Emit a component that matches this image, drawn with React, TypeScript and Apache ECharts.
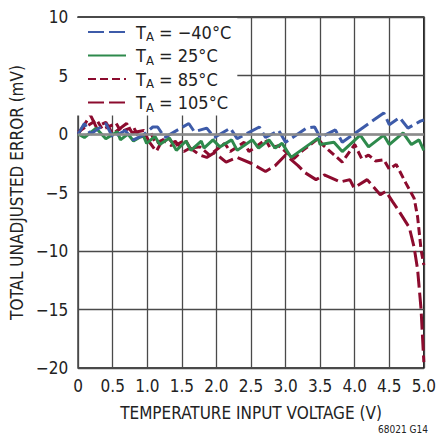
import React, { useEffect, useRef } from "react";
import * as echarts from "echarts";

const FONT = '"Liberation Sans Narrow", "Arial Narrow", "DejaVu Sans Condensed", sans-serif';

// Legend / series names (temperature T_A)
const tempNames = ["−40°C", "25°C", "85°C", "105°C"];
const tempColors = ["#3d5ba9", "#2e8a4c", "#8c0b2e", "#8c0b2e"];

// Axis ticks
const xTicks = [0, 0.5, 1.0, 1.5, 2.0, 2.5, 3.0, 3.5, 4.0, 4.5, 5.0];
const yTicks = [-20, -15, -10, -5, 0, 5, 10];

// Series values: [temperature input voltage (V), total unadjusted error (mV)]
const errM40: [number, number][] = [
  [0, 0], [0.09, 0.9], [0.18, 0], [0.4, 0.9], [0.5, -0.3], [0.68, 0.3], [0.75, -0.2], [0.8, -0.5],
  [0.94, -0.1], [1.08, 0.6], [1.15, 0.6], [1.25, -0.3], [1.6, 0.9], [1.68, 0.2], [1.86, 0.5],
  [1.97, -0.3], [2.2, 0.5], [2.3, -0.4], [2.62, 0.6], [2.71, -0.3], [2.9, 0.3], [3.0, -0.7],
  [3.3, 0.5], [3.42, 0.6], [3.5, -0.3], [3.72, 0.35], [3.82, -0.7], [4.42, 1.8], [4.5, 0.8],
  [4.65, 1.4], [4.77, 0.5], [4.95, 1.1], [5.0, 1.2],
];

const err25: [number, number][] = [
  [0, 0], [0.09, -0.3], [0.26, 0.5], [0.4, -0.4], [0.57, 0.2], [0.61, -0.5], [0.72, 0], [0.8, -0.6],
  [0.94, -0.1], [0.99, -0.8], [1.11, -0.2], [1.18, -0.9], [1.32, -0.35], [1.42, -1.4], [1.56, -0.6],
  [1.63, -1.4], [1.78, -0.6], [1.82, -1.2], [1.95, -0.5], [2.05, -1.1], [2.22, -0.5], [2.3, -1.4],
  [2.52, -0.5], [2.61, -1.2], [2.76, -0.5], [2.85, -1.2], [2.95, -0.8], [3.08, -2.0], [3.47, -0.35],
  [3.5, -0.9], [3.7, -0.7], [3.82, -1.5], [4.08, -0.1], [4.2, -1.1], [4.42, -0.1], [4.5, -0.9],
  [4.7, 0.1], [4.82, -0.9], [4.93, -0.5], [5.0, -1.4],
];

const err85: [number, number][] = [
  [0, 0.2], [0.27, 1.2], [0.35, 0.4], [0.55, 0.9], [0.62, 0.2], [0.8, 0.6], [0.88, -0.3], [1.05, 0.1],
  [1.12, -0.8], [1.3, -0.3], [1.4, -1.0], [1.55, -0.5], [1.62, -1.2], [1.76, -1.1], [1.9, -1.8],
  [2.12, -0.8], [2.2, -1.5], [2.4, -0.7], [2.47, -1.5], [2.71, -0.5], [2.78, -1.2], [2.9, -1.0],
  [3.0, -1.5], [3.12, -2.1], [3.25, -1.4], [3.47, -0.4], [3.55, -1.0], [3.82, -2.4], [4.0, -0.9],
  [4.1, -2.1], [4.2, -1.8], [4.3, -2.3], [4.42, -2.2], [4.5, -3.0], [4.6, -2.6], [4.74, -4.2],
  [4.86, -5.5], [4.91, -7.1], [4.96, -9.9], [5.0, -11.2],
];

const err105: [number, number][] = [
  [0, 0], [0.18, 1.6], [0.26, 0.6], [0.4, 1.0], [0.5, 0], [0.7, 0.9], [0.78, 0.1], [0.95, 0.3],
  [1.02, -0.6], [1.13, -1.5], [1.22, -0.5], [1.35, -1.0], [1.4, -0.6], [1.53, -1.5], [1.62, -1.2],
  [1.76, -1.8], [1.86, -2.0], [1.97, -1.6], [2.14, -2.4], [2.3, -2.0], [2.5, -2.5], [2.71, -3.2],
  [2.85, -2.7], [3.0, -1.8], [3.18, -2.7], [3.28, -3.3], [3.44, -3.9], [3.56, -3.5], [3.79, -4.1],
  [3.93, -3.9], [3.99, -4.6], [4.18, -3.9], [4.37, -5.2], [4.45, -4.9], [4.55, -5.8], [4.63, -6.5],
  [4.79, -8.0], [4.86, -9.7], [4.91, -11.6], [4.96, -15], [5.0, -19.5],
];

const seriesData = [errM40, err25, err85, err105];
const dashes: (number[] | "solid")[] = [[16, 5], "solid", [8, 4], [16, 5]];

export default function App() {
  const ref = useRef<HTMLDivElement>(null);
  useEffect(() => {
    if (!ref.current) return;
    const chart = echarts.init(ref.current, null, { renderer: "svg" });
    const lineSeries = [3, 2, 1, 0].map((i) => ({
      name: tempNames[i],
      type: "line",
      data: seriesData[i],
      symbol: "none",
      showSymbol: false,
      color: tempColors[i],
      lineStyle: { width: 3, color: tempColors[i], type: dashes[i] },
      z: 3,
    }));
    chart.setOption({
      animation: false,
      backgroundColor: "#fff",
      textStyle: { fontFamily: FONT },
      grid: {
        left: 76, top: 17, width: 352, height: 351,
        show: true, borderColor: "#111", borderWidth: 1.5, backgroundColor: "transparent",
      },
      legend: {
        orient: "vertical",
        left: 77,
        top: 18,
        itemWidth: 38,
        itemHeight: 14,
        itemGap: 1.5,
        itemStyle: { opacity: 0 },
        backgroundColor: "#fff",
        padding: [3, 6, 2, 10],
        data: tempNames,
        formatter: (name: string) => `{g|}{t|T}{s|A}{t| = ${name}}`,
        textStyle: {
          color: "#222",
          fontFamily: FONT,
          rich: {
            g: { width: 5, lineHeight: 20 },
            t: { fontSize: 18, lineHeight: 20, fontFamily: FONT, color: "#222" },
            s: { fontSize: 13, lineHeight: 20, fontFamily: FONT, color: "#222", padding: [9, 0, 0, 0] },
          },
        },
      },
      xAxis: {
        type: "value",
        min: 0,
        max: 5,
        interval: 0.5,
        axisLine: { show: false },
        axisTick: { show: false },
        splitLine: { show: true, lineStyle: { color: "#4a4a4a", width: 1.3 } },
        axisLabel: {
          fontSize: 17, color: "#222", fontFamily: FONT, margin: 9,
          formatter: (v: number) => (xTicks.includes(v) ? (v === 0 ? "0" : v.toFixed(1)) : ""),
        },
        name: "TEMPERATURE INPUT VOLTAGE (V)",
        nameLocation: "middle",
        nameGap: 36,
        nameTextStyle: { fontSize: 17, color: "#222", fontFamily: FONT },
      },
      yAxis: {
        type: "value",
        min: -20,
        max: 10,
        interval: 5,
        axisLine: { show: false },
        axisTick: { show: false },
        splitLine: { show: true, lineStyle: { color: "#4a4a4a", width: 1.3 } },
        axisLabel: {
          fontSize: 17, color: "#222", fontFamily: FONT, margin: 10,
          formatter: (v: number) => (yTicks.includes(v) ? (v < 0 ? "−" + Math.abs(v) : String(v)) : ""),
        },
        name: "TOTAL UNADJUSTED ERROR (mV)",
        nameLocation: "middle",
        nameGap: 44,
        nameTextStyle: { fontSize: 17, color: "#222", fontFamily: FONT },
      },
      graphic: [
        {
          type: "text",
          right: 11,
          top: 424,
          style: { text: "68021 G14", fontSize: 10, fill: "#222", fontFamily: FONT },
        },
      ],
      series: [
        {
          name: "zero",
          type: "line",
          data: [],
          silent: true,
          z: 2,
          markLine: {
            silent: true,
            symbol: "none",
            label: { show: false },
            lineStyle: { color: "#8c8c8c", width: 2.5, type: "solid" },
            data: [{ yAxis: 0 }],
          },
        },
        ...lineSeries,
      ],
    });
    return () => chart.dispose();
  }, []);
  return (
    <div
      ref={ref}
      style={{ position: "absolute", left: 0, top: 0, width: 439, height: 436 }}
    />
  );
}
